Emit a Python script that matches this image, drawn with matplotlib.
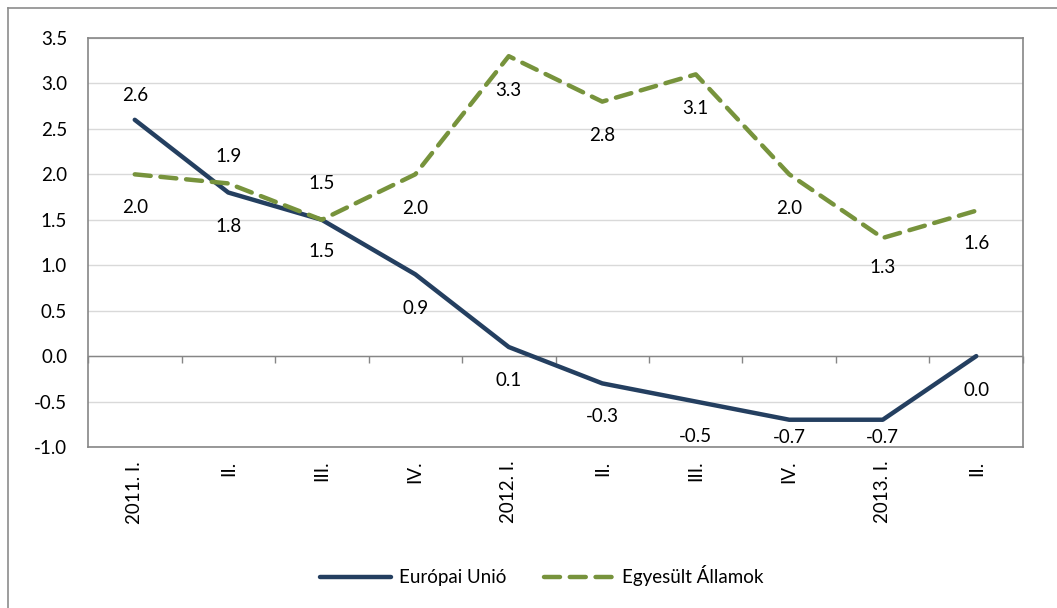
import matplotlib
matplotlib.use("Agg")
import matplotlib.pyplot as plt
from matplotlib.lines import Line2D
import numpy as np

plt.rcParams['font.family'] = ['Lato', 'DejaVu Sans']

categories = ["2011. I.", "II.", "III.", "IV.", "2012. I.", "II.", "III.", "IV.", "2013. I.", "II."]
eu_values = [2.6, 1.8, 1.5, 0.9, 0.1, -0.3, -0.5, -0.7, -0.7, 0.0]
us_values = [2.0, 1.9, 1.5, 2.0, 3.3, 2.8, 3.1, 2.0, 1.3, 1.6]
eu_name = "Európai Unió"
us_name = "Egyesült Államok"
y_ticks = [-1.0, -0.5, 0.0, 0.5, 1.0, 1.5, 2.0, 2.5, 3.0, 3.5]

# label offsets in pixels (style)
eu_label_dy = [24, -34, -32, -34, -33, -33, -35, -18, -18, -34]
us_label_dy = [-33, 27, 36, -34, -34, -34, -34, -34, -30, -33]

W, H = 1057, 608
fig = plt.figure(figsize=(W / 100, H / 100), dpi=100)
ax = fig.add_axes([88 / W, 1 - 447 / H, (1023 - 88) / W, (447 - 38) / H])

eu_color = "#243F60"
us_color = "#77933C"
grid_c = "#D9D9D9"
axis_c = "#868686"
fs = 13.5

x = np.arange(len(categories))
ax.set_xlim(-0.5, len(categories) - 0.5)
ax.set_ylim(-1.0, 3.5)

for yv in y_ticks:
    ax.axhline(yv, color=grid_c, lw=1.0, zorder=0)
ax.axhline(0, color=axis_c, lw=1.0, zorder=1)

ax.plot(x, eu_values, color=eu_color, lw=3.2, solid_capstyle='round',
        solid_joinstyle='round', label=eu_name, zorder=3)
ax.plot(x, us_values, color=us_color, lw=3.2, dashes=(3.6, 2.2),
        dash_capstyle='round', label=us_name, zorder=3)

for xi, v, dy in zip(x, eu_values, eu_label_dy):
    ax.annotate(f"{v:.1f}", (xi, v), xytext=(0, dy), textcoords='offset pixels',
                ha='center', va='center', fontsize=fs, color='black', zorder=4)
for xi, v, dy in zip(x, us_values, us_label_dy):
    ax.annotate(f"{v:.1f}", (xi, v), xytext=(0, dy), textcoords='offset pixels',
                ha='center', va='center', fontsize=fs, color='black', zorder=4)

ax.set_yticks(y_ticks)
ax.set_yticklabels([f"{v:.1f}" for v in y_ticks], fontsize=fs)
ax.tick_params(axis='y', length=0, pad=15)
ax.set_xticks(x)
ax.set_xticklabels(categories, rotation=90, fontsize=fs, va='top', ha='center')
ax.tick_params(axis='x', length=0, pad=10)

for s in ax.spines.values():
    s.set_color(axis_c)
    s.set_linewidth(1.2)

# category tick marks on the zero line
sec = ax.secondary_xaxis((0 - (-1.0)) / 4.5)
sec.set_xticks(np.arange(-0.5, len(categories), 1.0))
sec.set_xticklabels([])
sec.tick_params(axis='x', direction='out', length=5, color=axis_c, width=1)
sec.spines['bottom'].set_visible(False)

# outer frame
fig.add_artist(Line2D([8 / W, 8 / W], [0, 1 - 8 / H], transform=fig.transFigure, color="#8C8C8C", lw=1.2))
fig.add_artist(Line2D([8 / W, 1], [1 - 8 / H, 1 - 8 / H], transform=fig.transFigure, color="#8C8C8C", lw=1.2))

fig.legend(loc='center', bbox_to_anchor=(542 / W, 1 - 576 / H), ncol=2, frameon=False,
           fontsize=fs, handlelength=3.8, handletextpad=0.4, columnspacing=2.0)

fig.savefig("out.png", dpi=100)
